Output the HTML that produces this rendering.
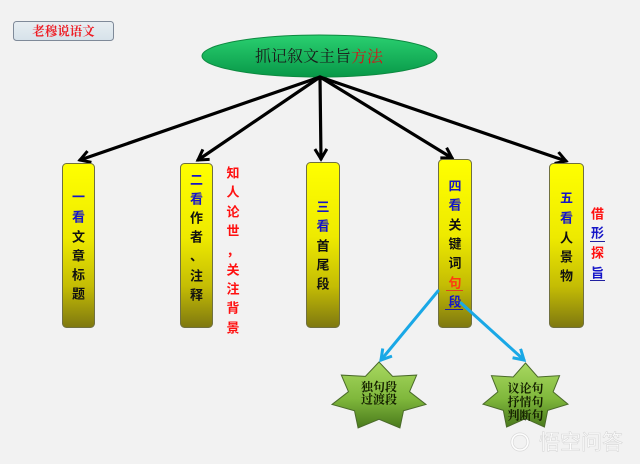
<!DOCTYPE html>
<html>
<head>
<meta charset="utf-8">
<style>
html,body{margin:0;padding:0;background:#f2f2f2;}
svg{display:block;}
.bx{font-family:"Liberation Sans","Noto Sans CJK SC",sans-serif;font-weight:700;font-size:13px;text-anchor:middle;dominant-baseline:central;}
</style>
</head>
<body>
<svg width="640" height="464" viewBox="0 0 640 464" xmlns="http://www.w3.org/2000/svg">
<defs>
<linearGradient id="gEll" x1="0" y1="0" x2="0" y2="1">
<stop offset="0" stop-color="#2ad070"/>
<stop offset="1" stop-color="#089848"/>
</linearGradient>
<linearGradient id="gBox" x1="0" y1="0" x2="0" y2="1">
<stop offset="0" stop-color="#ffff00"/>
<stop offset="0.45" stop-color="#eeea00"/>
<stop offset="0.75" stop-color="#c4bc04"/>
<stop offset="1" stop-color="#7e7810"/>
</linearGradient>
<linearGradient id="gStar" x1="0" y1="0" x2="0" y2="1">
<stop offset="0" stop-color="#a8d860"/>
<stop offset="0.55" stop-color="#80b83c"/>
<stop offset="1" stop-color="#4a7a1c"/>
</linearGradient>
<linearGradient id="gLab" x1="0" y1="0" x2="0" y2="1">
<stop offset="0" stop-color="#e8eef2"/>
<stop offset="1" stop-color="#d6e2ea"/>
</linearGradient>
<marker id="ah" markerWidth="16" markerHeight="16" refX="11" refY="7" orient="auto" markerUnits="userSpaceOnUse">
<path d="M1,1 L11,7 L1,13" fill="none" stroke="#000" stroke-width="3" stroke-linejoin="miter"/>
</marker>
<marker id="ahb" markerWidth="16" markerHeight="16" refX="11" refY="7" orient="auto" markerUnits="userSpaceOnUse">
<path d="M1,1 L11,7 L1,13" fill="none" stroke="#1aa8e6" stroke-width="3"/>
</marker>
</defs>

<!-- label box -->
<rect x="13.5" y="21.5" width="100" height="19" rx="3" fill="url(#gLab)" stroke="#7f8a99" stroke-width="1"/>
<text x="63.5" y="31.5" font-family="'Liberation Serif','Noto Serif CJK SC',serif" font-weight="700" font-size="12.5" fill="#ee1c24" text-anchor="middle" dominant-baseline="central">老穆说语文</text>

<!-- ellipse -->
<ellipse cx="319.5" cy="56" rx="117.5" ry="21" fill="url(#gEll)" stroke="#0d8a40" stroke-width="1"/>
<text x="319" y="57" font-family="'Liberation Serif','Noto Serif CJK SC',serif" font-size="16" fill="#1a1a1a" text-anchor="middle" dominant-baseline="central">抓记叙文主旨<tspan fill="#d01818">方法</tspan></text>

<!-- black arrows -->
<g stroke="#000" stroke-width="3.2" fill="none" stroke-linecap="round">
<line x1="320" y1="77" x2="80" y2="160" marker-end="url(#ah)"/>
<line x1="320" y1="77" x2="198" y2="160" marker-end="url(#ah)"/>
<line x1="320" y1="77" x2="321" y2="159" marker-end="url(#ah)"/>
<line x1="320" y1="77" x2="452" y2="158" marker-end="url(#ah)"/>
<line x1="320" y1="77" x2="566" y2="161" marker-end="url(#ah)"/>
</g>

<!-- boxes -->
<g stroke="#707040" stroke-width="1" fill="url(#gBox)">
<rect x="62.5" y="163.5" width="32" height="164" rx="4"/>
<rect x="180.5" y="163.5" width="32" height="164" rx="4"/>
<rect x="306.5" y="162.5" width="33" height="165" rx="4"/>
<rect x="438.5" y="159.5" width="33" height="168" rx="4"/>
<rect x="549.5" y="163.5" width="34" height="164" rx="4"/>
</g>

<!-- box1 -->
<g class="bx">
<text x="78.5" y="197" fill="#1515c8">一</text>
<text x="78.5" y="217" fill="#1515c8">看</text>
<text x="78.5" y="237" fill="#111">文</text>
<text x="78.5" y="256" fill="#111">章</text>
<text x="78.5" y="275" fill="#111">标</text>
<text x="78.5" y="294" fill="#111">题</text>
</g>
<!-- box2 -->
<g class="bx">
<text x="196.5" y="180" fill="#1515c8">二</text>
<text x="196.5" y="199" fill="#1515c8">看</text>
<text x="196.5" y="218" fill="#111">作</text>
<text x="196.5" y="237" fill="#111">者</text>
<text x="196.5" y="256" fill="#111">、</text>
<text x="196.5" y="276" fill="#111">注</text>
<text x="196.5" y="295" fill="#111">释</text>
</g>
<!-- box2 side -->
<g class="bx" fill="#ff1010" font-size="12.5">
<text x="233" y="173">知</text>
<text x="233" y="192">人</text>
<text x="233" y="212">论</text>
<text x="233" y="231">世</text>
<text x="233" y="251">，</text>
<text x="233" y="270">关</text>
<text x="233" y="289">注</text>
<text x="233" y="308">背</text>
<text x="233" y="328">景</text>
</g>
<!-- box3 -->
<g class="bx">
<text x="323" y="207" fill="#1515c8">三</text>
<text x="323" y="226" fill="#1515c8">看</text>
<text x="323" y="246" fill="#111">首</text>
<text x="323" y="265" fill="#111">尾</text>
<text x="323" y="284" fill="#111">段</text>
</g>
<!-- box4 -->
<g class="bx">
<text x="455" y="186" fill="#1515c8">四</text>
<text x="455" y="205" fill="#1515c8">看</text>
<text x="455" y="225" fill="#111">关</text>
<text x="455" y="244" fill="#111">键</text>
<text x="455" y="263" fill="#111">词</text>
<text x="455" y="283" fill="#ff3a10">句</text>
<text x="455" y="302" fill="#1515c8">段</text>
</g>
<line x1="446" y1="290.5" x2="463" y2="290.5" stroke="#e04020" stroke-width="1"/>
<line x1="445" y1="309.5" x2="463" y2="309.5" stroke="#2020a0" stroke-width="1"/>
<!-- box5 -->
<g class="bx">
<text x="566.5" y="198" fill="#1515c8">五</text>
<text x="566.5" y="218" fill="#1515c8">看</text>
<text x="566.5" y="238" fill="#111">人</text>
<text x="566.5" y="257" fill="#111">景</text>
<text x="566.5" y="276" fill="#111">物</text>
</g>
<!-- box5 side -->
<g class="bx" font-size="12.5">
<text x="597.5" y="214" fill="#ff1010">借</text>
<text x="597.5" y="233" fill="#1515c8">形</text>
<text x="597.5" y="253" fill="#ff1010">探</text>
<text x="597.5" y="273" fill="#1515c8">旨</text>
</g>
<line x1="590" y1="241.5" x2="605" y2="241.5" stroke="#2020a0" stroke-width="1"/>
<line x1="590" y1="280.5" x2="605" y2="280.5" stroke="#2020a0" stroke-width="1"/>

<!-- blue connectors -->
<g stroke="#1aa8e6" stroke-width="3" fill="none" stroke-linecap="round">
<line x1="438" y1="291" x2="381" y2="360" marker-end="url(#ahb)"/>
<line x1="461" y1="303" x2="524" y2="360" marker-end="url(#ahb)"/>
</g>

<!-- stars -->
<polygon transform="translate(379,396.7) scale(48.2,34.7)" fill="url(#gStar)" stroke="#4a6a2a" stroke-width="1" vector-effect="non-scaling-stroke"
points="0,-1 0.282,-0.5857 0.7818,-0.6235 0.6337,-0.1446 0.9749,0.2225 0.5082,0.4053 0.4339,0.901 0,0.65 -0.4339,0.901 -0.5082,0.4053 -0.9749,0.2225 -0.6337,-0.1446 -0.7818,-0.6235 -0.282,-0.5857"/>
<polygon transform="translate(525.5,396.7) scale(43.6,33.7)" fill="url(#gStar)" stroke="#4a6a2a" stroke-width="1" vector-effect="non-scaling-stroke"
points="0,-1 0.282,-0.5857 0.7818,-0.6235 0.6337,-0.1446 0.9749,0.2225 0.5082,0.4053 0.4339,0.901 0,0.65 -0.4339,0.901 -0.5082,0.4053 -0.9749,0.2225 -0.6337,-0.1446 -0.7818,-0.6235 -0.282,-0.5857"/>
<g font-family="'Liberation Serif','Noto Serif CJK SC',serif" font-weight="700" font-size="12" fill="#142000" text-anchor="middle" dominant-baseline="central">
<text x="379" y="387">独句段</text>
<text x="379" y="399.5">过渡段</text>
<text x="525.5" y="388.5">议论句</text>
<text x="525.5" y="402">抒情句</text>
<text x="525.5" y="415.5">判断句</text>
</g>

<!-- watermark -->
<g opacity="0.95">
<circle cx="520" cy="442" r="8" fill="none" stroke="#d8d8d8" stroke-width="3"/>
<circle cx="520" cy="442" r="8" fill="none" stroke="#ffffff" stroke-width="1.6"/>
<text x="581" y="443" font-family="'Liberation Sans','Noto Sans CJK SC',sans-serif" font-size="21" fill="#ffffff" stroke="#d6d6d6" stroke-width="0.6" text-anchor="middle" dominant-baseline="central">悟空问答</text>
</g>
</svg>
</body>
</html>
